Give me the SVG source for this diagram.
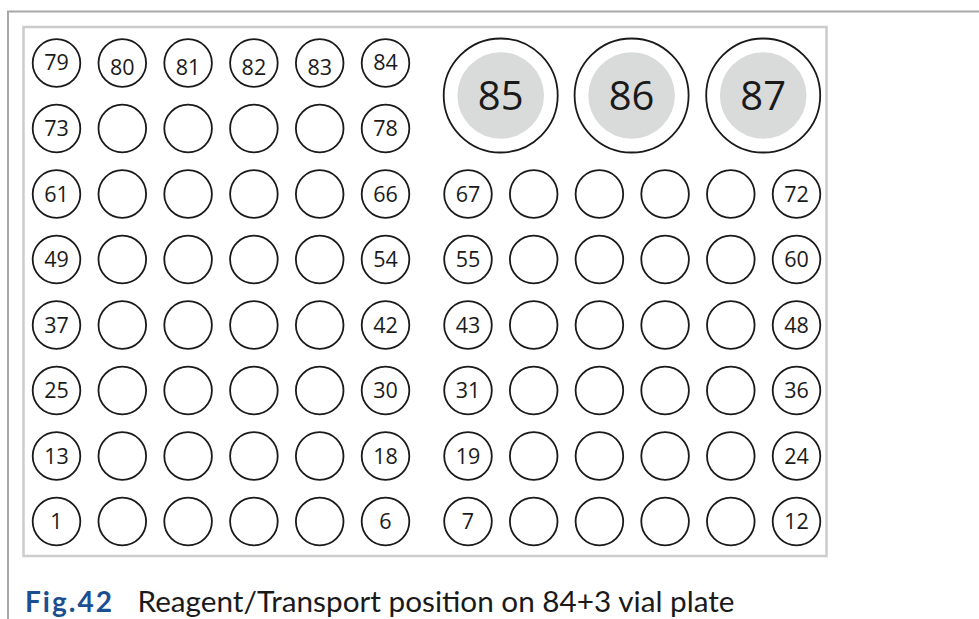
<svg xmlns="http://www.w3.org/2000/svg" width="979" height="619" viewBox="0 0 979 619">
<style>
.v{fill:#fff;stroke:#1a1a1a;stroke-width:1.8}
.b{fill:#fff;stroke:#1a1a1a;stroke-width:1.8}
.g{fill:#d9dada;stroke:none}
.t{font-family:"Open Sans","Liberation Sans",sans-serif;font-size:21.5px;fill:#1a1a1a;text-anchor:middle}
.T{font-family:"Open Sans","Liberation Sans",sans-serif;font-size:40px;fill:#1a1a1a;text-anchor:middle}
.cap{font-family:Lato,"Open Sans",sans-serif;font-size:28px;fill:#1a1a1a}
.fig{font-family:Lato,"Open Sans",sans-serif;font-size:28px;font-weight:bold;fill:#1a4f91}
</style>
<rect width="979" height="619" fill="#fff"/>
<path d="M8 619 V11.5 H979" fill="none" stroke="#a8a8a8" stroke-width="2"/>
<rect x="23.5" y="27" width="803" height="529" fill="#fff" stroke="#cccccc" stroke-width="2.5"/>
<g id="connectors"></g>
<g id="left-rack">
<g id="v79"><circle class="v" cx="56.5" cy="63" r="23.8"/><text class="t" x="56.5" y="69.5">79</text></g>
<g id="v80"><circle class="v" cx="122.3" cy="63" r="23.8"/><text class="t" x="122.3" y="75">80</text></g>
<g id="v81"><circle class="v" cx="188.1" cy="63" r="23.8"/><text class="t" x="188.1" y="75">81</text></g>
<g id="v82"><circle class="v" cx="253.9" cy="63" r="23.8"/><text class="t" x="253.9" y="75">82</text></g>
<g id="v83"><circle class="v" cx="319.7" cy="63" r="23.8"/><text class="t" x="319.7" y="75">83</text></g>
<g id="v84"><circle class="v" cx="385.5" cy="63" r="23.8"/><text class="t" x="385.5" y="69.5">84</text></g>

<g id="v73"><circle class="v" cx="56.5" cy="128.5" r="23.8"/><text class="t" x="56.5" y="136.3">73</text></g>
<g id="v74"><circle class="v" cx="122.3" cy="128.5" r="23.8"/></g>
<g id="v75"><circle class="v" cx="188.1" cy="128.5" r="23.8"/></g>
<g id="v76"><circle class="v" cx="253.9" cy="128.5" r="23.8"/></g>
<g id="v77"><circle class="v" cx="319.7" cy="128.5" r="23.8"/></g>
<g id="v78"><circle class="v" cx="385.5" cy="128.5" r="23.8"/><text class="t" x="385.5" y="136.3">78</text></g>

<g id="v61"><circle class="v" cx="56.5" cy="194" r="23.8"/><text class="t" x="56.5" y="201.8">61</text></g>
<g id="v62"><circle class="v" cx="122.3" cy="194" r="23.8"/></g>
<g id="v63"><circle class="v" cx="188.1" cy="194" r="23.8"/></g>
<g id="v64"><circle class="v" cx="253.9" cy="194" r="23.8"/></g>
<g id="v65"><circle class="v" cx="319.7" cy="194" r="23.8"/></g>
<g id="v66"><circle class="v" cx="385.5" cy="194" r="23.8"/><text class="t" x="385.5" y="201.8">66</text></g>

<g id="v49"><circle class="v" cx="56.5" cy="259.5" r="23.8"/><text class="t" x="56.5" y="267.3">49</text></g>
<g id="v50"><circle class="v" cx="122.3" cy="259.5" r="23.8"/></g>
<g id="v51"><circle class="v" cx="188.1" cy="259.5" r="23.8"/></g>
<g id="v52"><circle class="v" cx="253.9" cy="259.5" r="23.8"/></g>
<g id="v53"><circle class="v" cx="319.7" cy="259.5" r="23.8"/></g>
<g id="v54"><circle class="v" cx="385.5" cy="259.5" r="23.8"/><text class="t" x="385.5" y="267.3">54</text></g>

<g id="v37"><circle class="v" cx="56.5" cy="325" r="23.8"/><text class="t" x="56.5" y="332.8">37</text></g>
<g id="v38"><circle class="v" cx="122.3" cy="325" r="23.8"/></g>
<g id="v39"><circle class="v" cx="188.1" cy="325" r="23.8"/></g>
<g id="v40"><circle class="v" cx="253.9" cy="325" r="23.8"/></g>
<g id="v41"><circle class="v" cx="319.7" cy="325" r="23.8"/></g>
<g id="v42"><circle class="v" cx="385.5" cy="325" r="23.8"/><text class="t" x="385.5" y="332.8">42</text></g>

<g id="v25"><circle class="v" cx="56.5" cy="390.5" r="23.8"/><text class="t" x="56.5" y="398.3">25</text></g>
<g id="v26"><circle class="v" cx="122.3" cy="390.5" r="23.8"/></g>
<g id="v27"><circle class="v" cx="188.1" cy="390.5" r="23.8"/></g>
<g id="v28"><circle class="v" cx="253.9" cy="390.5" r="23.8"/></g>
<g id="v29"><circle class="v" cx="319.7" cy="390.5" r="23.8"/></g>
<g id="v30"><circle class="v" cx="385.5" cy="390.5" r="23.8"/><text class="t" x="385.5" y="398.3">30</text></g>

<g id="v13"><circle class="v" cx="56.5" cy="456" r="23.8"/><text class="t" x="56.5" y="463.8">13</text></g>
<g id="v14"><circle class="v" cx="122.3" cy="456" r="23.8"/></g>
<g id="v15"><circle class="v" cx="188.1" cy="456" r="23.8"/></g>
<g id="v16"><circle class="v" cx="253.9" cy="456" r="23.8"/></g>
<g id="v17"><circle class="v" cx="319.7" cy="456" r="23.8"/></g>
<g id="v18"><circle class="v" cx="385.5" cy="456" r="23.8"/><text class="t" x="385.5" y="463.8">18</text></g>

<g id="v1"><circle class="v" cx="56.5" cy="521.5" r="23.8"/><text class="t" x="56.5" y="529.3">1</text></g>
<g id="v2"><circle class="v" cx="122.3" cy="521.5" r="23.8"/></g>
<g id="v3"><circle class="v" cx="188.1" cy="521.5" r="23.8"/></g>
<g id="v4"><circle class="v" cx="253.9" cy="521.5" r="23.8"/></g>
<g id="v5"><circle class="v" cx="319.7" cy="521.5" r="23.8"/></g>
<g id="v6"><circle class="v" cx="385.5" cy="521.5" r="23.8"/><text class="t" x="385.5" y="529.3">6</text></g>
</g>

<g id="large-vials">
<g id="v85"><circle class="b" cx="500.7" cy="95.5" r="57"/><circle class="g" cx="500.7" cy="95.5" r="43.3"/><text class="T" x="500.7" y="110">85</text></g>
<g id="v86"><circle class="b" cx="631.6" cy="95.5" r="57"/><circle class="g" cx="631.6" cy="95.5" r="43.3"/><text class="T" x="631.6" y="110">86</text></g>
<g id="v87"><circle class="b" cx="763.2" cy="95.5" r="57"/><circle class="g" cx="763.2" cy="95.5" r="43.3"/><text class="T" x="763.2" y="110">87</text></g>
</g>

<g id="right-rack">
<g id="v67"><circle class="v" cx="468" cy="194" r="23.8"/><text class="t" x="468" y="201.8">67</text></g>
<g id="v68"><circle class="v" cx="533.7" cy="194" r="23.8"/></g>
<g id="v69"><circle class="v" cx="599.4" cy="194" r="23.8"/></g>
<g id="v70"><circle class="v" cx="665.1" cy="194" r="23.8"/></g>
<g id="v71"><circle class="v" cx="730.8" cy="194" r="23.8"/></g>
<g id="v72"><circle class="v" cx="796.5" cy="194" r="23.8"/><text class="t" x="796.5" y="201.8">72</text></g>

<g id="v55"><circle class="v" cx="468" cy="259.5" r="23.8"/><text class="t" x="468" y="267.3">55</text></g>
<g id="v56"><circle class="v" cx="533.7" cy="259.5" r="23.8"/></g>
<g id="v57"><circle class="v" cx="599.4" cy="259.5" r="23.8"/></g>
<g id="v58"><circle class="v" cx="665.1" cy="259.5" r="23.8"/></g>
<g id="v59"><circle class="v" cx="730.8" cy="259.5" r="23.8"/></g>
<g id="v60"><circle class="v" cx="796.5" cy="259.5" r="23.8"/><text class="t" x="796.5" y="267.3">60</text></g>

<g id="v43"><circle class="v" cx="468" cy="325" r="23.8"/><text class="t" x="468" y="332.8">43</text></g>
<g id="v44"><circle class="v" cx="533.7" cy="325" r="23.8"/></g>
<g id="v45"><circle class="v" cx="599.4" cy="325" r="23.8"/></g>
<g id="v46"><circle class="v" cx="665.1" cy="325" r="23.8"/></g>
<g id="v47"><circle class="v" cx="730.8" cy="325" r="23.8"/></g>
<g id="v48"><circle class="v" cx="796.5" cy="325" r="23.8"/><text class="t" x="796.5" y="332.8">48</text></g>

<g id="v31"><circle class="v" cx="468" cy="390.5" r="23.8"/><text class="t" x="468" y="398.3">31</text></g>
<g id="v32"><circle class="v" cx="533.7" cy="390.5" r="23.8"/></g>
<g id="v33"><circle class="v" cx="599.4" cy="390.5" r="23.8"/></g>
<g id="v34"><circle class="v" cx="665.1" cy="390.5" r="23.8"/></g>
<g id="v35"><circle class="v" cx="730.8" cy="390.5" r="23.8"/></g>
<g id="v36"><circle class="v" cx="796.5" cy="390.5" r="23.8"/><text class="t" x="796.5" y="398.3">36</text></g>

<g id="v19"><circle class="v" cx="468" cy="456" r="23.8"/><text class="t" x="468" y="463.8">19</text></g>
<g id="v20"><circle class="v" cx="533.7" cy="456" r="23.8"/></g>
<g id="v21"><circle class="v" cx="599.4" cy="456" r="23.8"/></g>
<g id="v22"><circle class="v" cx="665.1" cy="456" r="23.8"/></g>
<g id="v23"><circle class="v" cx="730.8" cy="456" r="23.8"/></g>
<g id="v24"><circle class="v" cx="796.5" cy="456" r="23.8"/><text class="t" x="796.5" y="463.8">24</text></g>

<g id="v7"><circle class="v" cx="468" cy="521.5" r="23.8"/><text class="t" x="468" y="529.3">7</text></g>
<g id="v8"><circle class="v" cx="533.7" cy="521.5" r="23.8"/></g>
<g id="v9"><circle class="v" cx="599.4" cy="521.5" r="23.8"/></g>
<g id="v10"><circle class="v" cx="665.1" cy="521.5" r="23.8"/></g>
<g id="v11"><circle class="v" cx="730.8" cy="521.5" r="23.8"/></g>
<g id="v12"><circle class="v" cx="796.5" cy="521.5" r="23.8"/><text class="t" x="796.5" y="529.3">12</text></g>
</g>

<g id="caption">
<text class="fig" x="25" y="612" textLength="87" lengthAdjust="spacing">Fig.42</text>
<text class="cap" x="137.5" y="612" textLength="597" lengthAdjust="spacingAndGlyphs">Reagent/Transport position on 84+3 vial plate</text>
</g>
</svg>
